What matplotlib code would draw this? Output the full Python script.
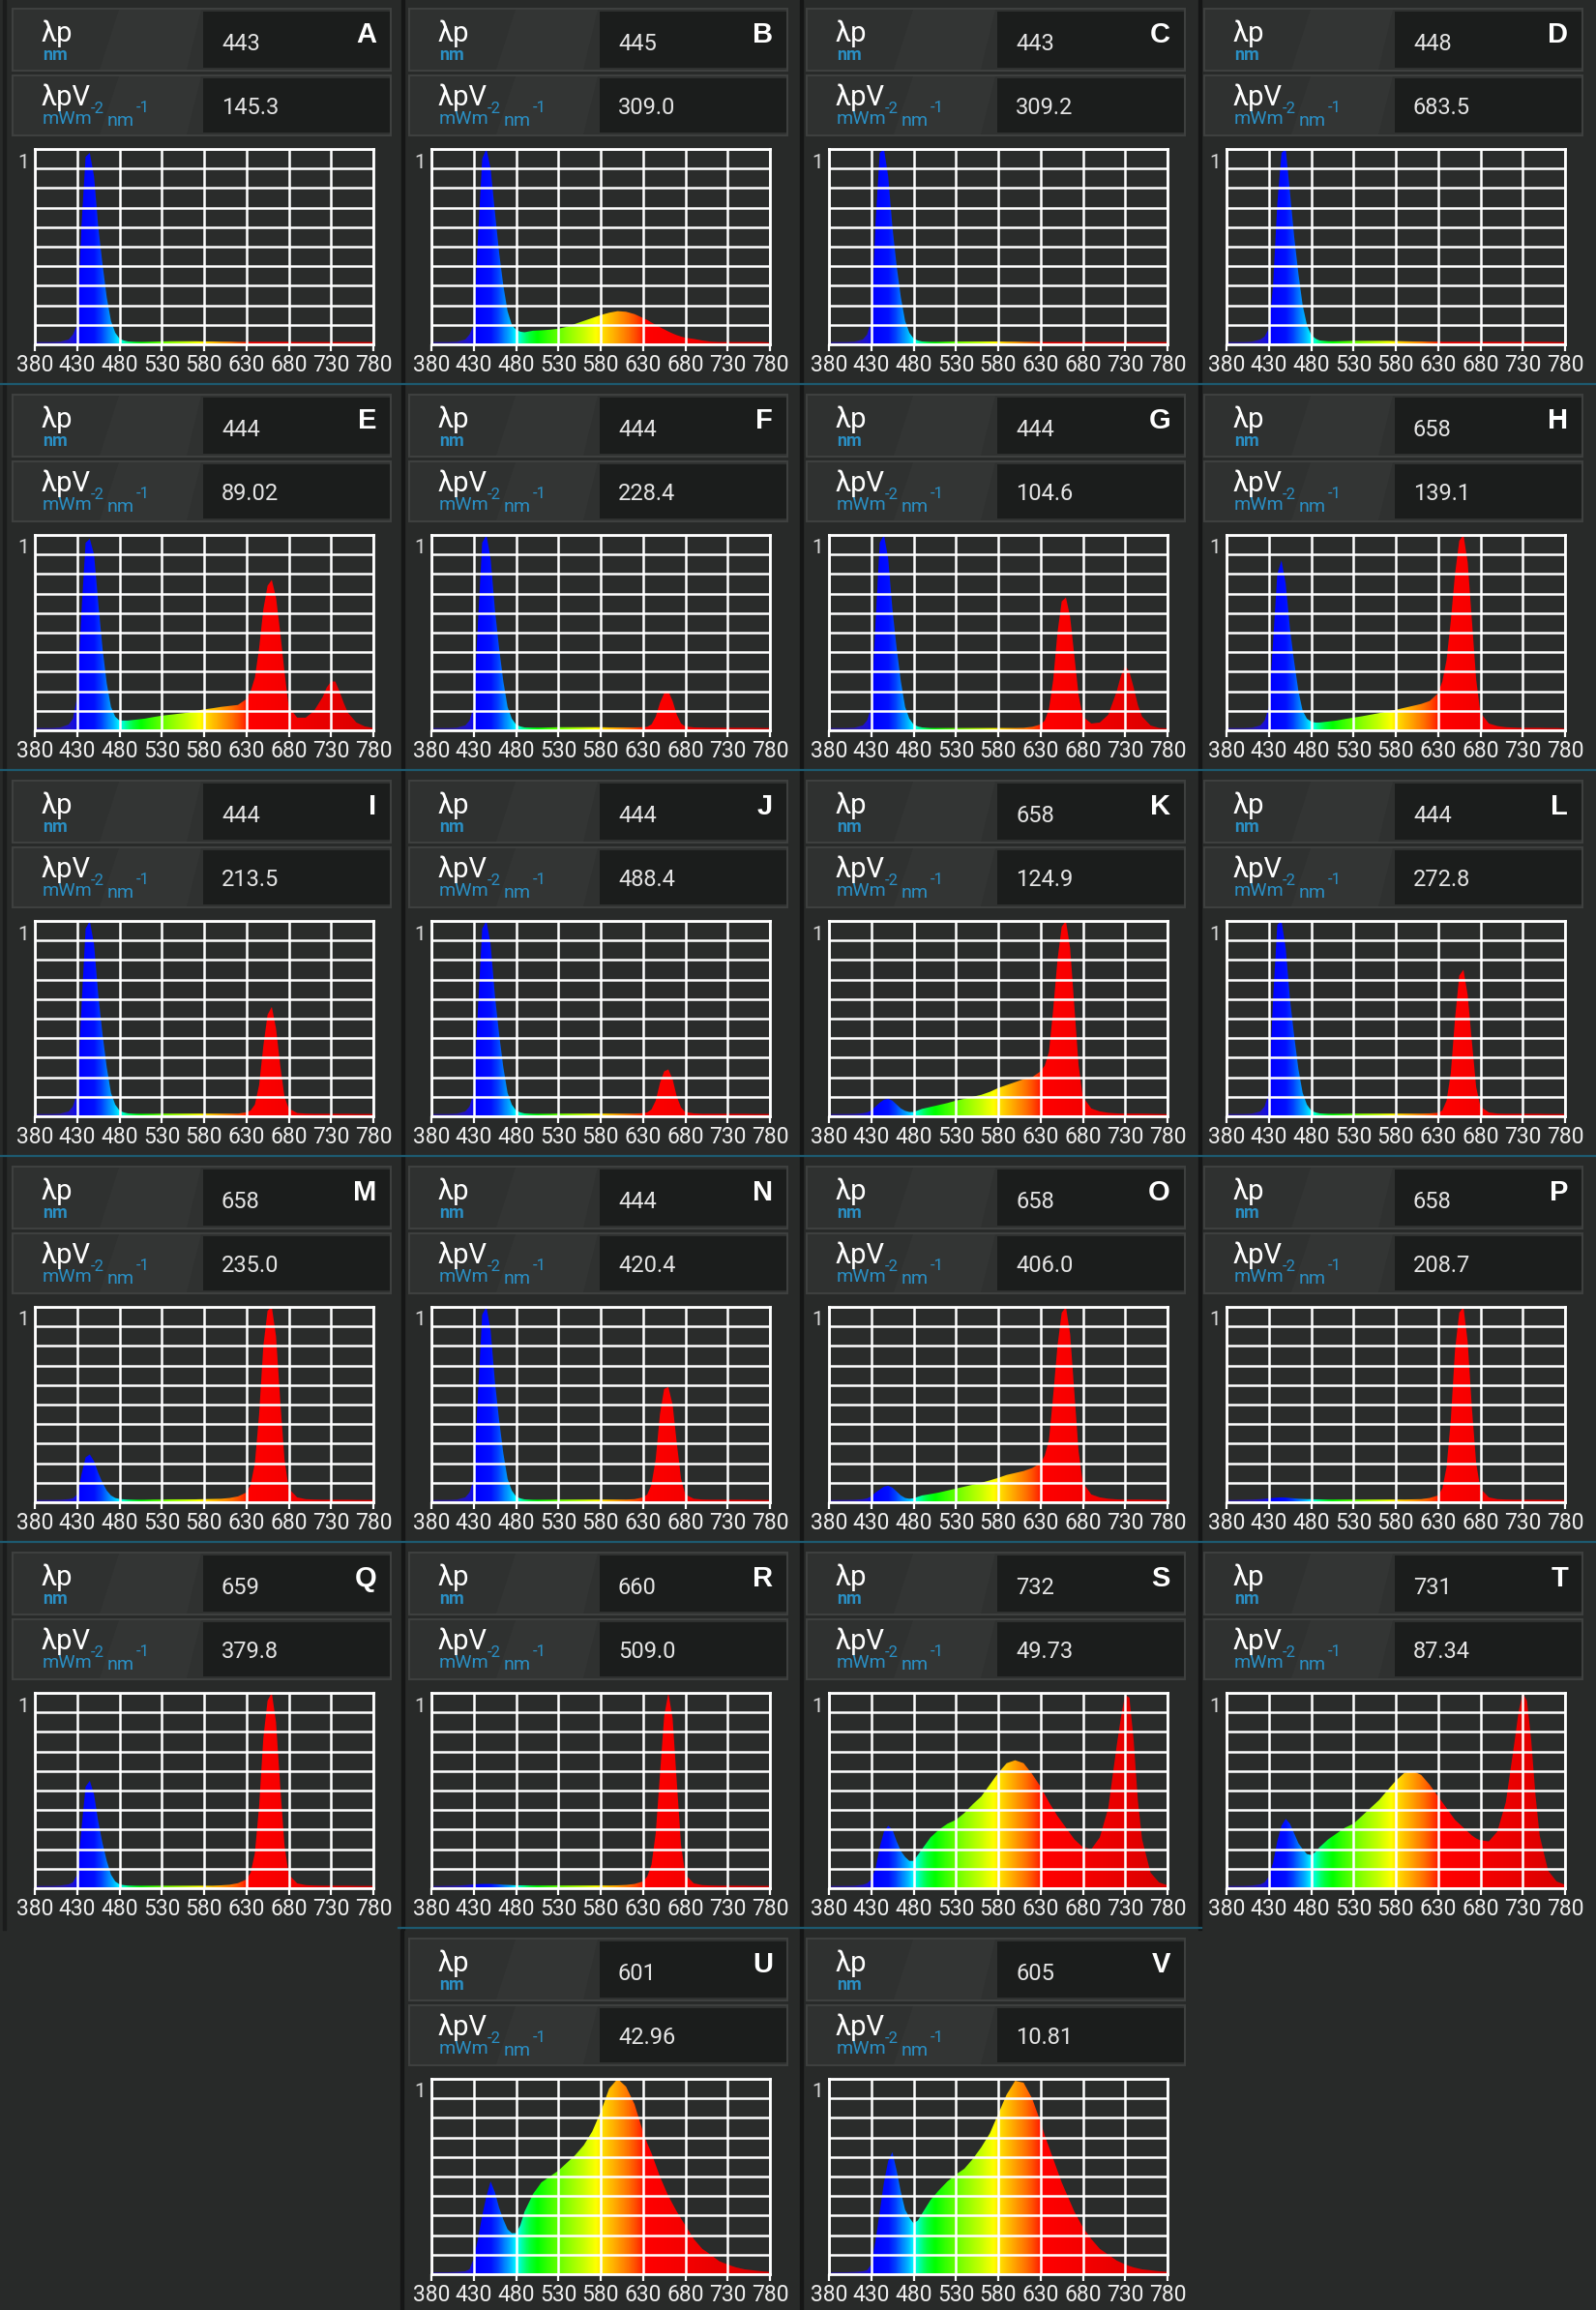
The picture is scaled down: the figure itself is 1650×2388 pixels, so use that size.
import numpy as np
import matplotlib
matplotlib.use('Agg')
import matplotlib.pyplot as plt
from matplotlib.colors import LinearSegmentedColormap
from matplotlib.patches import Rectangle, Polygon

# ---------------- data ----------------
WAVELENGTHS = [380, 390, 400, 410, 420,
               425, 430, 435, 440, 445, 450, 455, 460, 465, 470, 475, 480, 485, 490,
               500, 510, 520, 530, 540, 550, 560, 570, 580, 590, 600, 610, 620, 630,
               635, 640, 645, 650, 655, 660, 665, 670, 675, 680,
               690, 700, 710, 720,
               725, 730, 735, 740, 745, 750,
               760, 770, 780]

SPEC_A = [0.012, 0.012, 0.012, 0.014, 0.025,
          0.05, 0.10, 0.60, 0.96, 0.98, 0.86, 0.60, 0.41, 0.24, 0.12, 0.06, 0.03, 0.02, 0.015,
          0.013, 0.013, 0.014, 0.015, 0.016, 0.016, 0.016, 0.016, 0.015, 0.015, 0.014, 0.014, 0.013, 0.013,
          0.013, 0.013, 0.013, 0.013, 0.013, 0.013, 0.013, 0.013, 0.013, 0.013,
          0.012, 0.012, 0.012, 0.012,
          0.012, 0.012, 0.012, 0.012, 0.012, 0.012,
          0.012, 0.012, 0.012]
SPEC_B = [0.012, 0.012, 0.012, 0.014, 0.025,
          0.05, 0.10, 0.55, 0.95, 1.00, 0.90, 0.68, 0.47, 0.30, 0.17, 0.10, 0.075, 0.065, 0.062,
          0.07, 0.072, 0.075, 0.08, 0.09, 0.105, 0.12, 0.135, 0.15, 0.162, 0.17, 0.167, 0.155, 0.135,
          0.125, 0.112, 0.10, 0.088, 0.077, 0.066, 0.056, 0.047, 0.04, 0.034,
          0.028, 0.02, 0.014, 0.012,
          0.012, 0.012, 0.012, 0.012, 0.012, 0.012,
          0.012, 0.012, 0.01]
SPEC_C = [0.012, 0.012, 0.012, 0.014, 0.025,
          0.05, 0.12, 0.62, 0.98, 1.00, 0.86, 0.60, 0.40, 0.24, 0.12, 0.06, 0.03, 0.02, 0.015,
          0.013, 0.013, 0.014, 0.015, 0.015, 0.015, 0.015, 0.015, 0.015, 0.014, 0.014, 0.013, 0.013, 0.013,
          0.012, 0.012, 0.012, 0.012, 0.012, 0.012, 0.012, 0.012, 0.012, 0.012,
          0.012, 0.012, 0.012, 0.012,
          0.012, 0.012, 0.012, 0.012, 0.012, 0.012,
          0.012, 0.012, 0.012]
SPEC_D = [0.012, 0.012, 0.012, 0.014, 0.025,
          0.04, 0.08, 0.30, 0.72, 0.98, 1.00, 0.78, 0.55, 0.36, 0.20, 0.10, 0.05, 0.03, 0.02,
          0.016, 0.016, 0.017, 0.018, 0.018, 0.018, 0.018, 0.018, 0.017, 0.016, 0.015, 0.015, 0.014, 0.014,
          0.013, 0.013, 0.013, 0.013, 0.013, 0.013, 0.013, 0.013, 0.013, 0.013,
          0.013, 0.013, 0.013, 0.013,
          0.013, 0.013, 0.013, 0.013, 0.013, 0.013,
          0.013, 0.012, 0.012]
SPEC_E = [0.012, 0.012, 0.012, 0.015, 0.03,
          0.06, 0.17, 0.60, 0.96, 0.98, 0.90, 0.65, 0.42, 0.24, 0.12, 0.07, 0.05, 0.05, 0.05,
          0.055, 0.06, 0.068, 0.075, 0.08, 0.085, 0.09, 0.10, 0.107, 0.113, 0.12, 0.125, 0.13, 0.16,
          0.20, 0.27, 0.42, 0.62, 0.74, 0.77, 0.68, 0.50, 0.30, 0.12,
          0.065, 0.065, 0.10, 0.17,
          0.22, 0.25, 0.25, 0.20, 0.14, 0.09,
          0.04, 0.02, 0.012]
SPEC_F = [0.012, 0.012, 0.012, 0.014, 0.025,
          0.05, 0.12, 0.55, 0.96, 1.00, 0.88, 0.62, 0.42, 0.25, 0.12, 0.06, 0.03, 0.02, 0.015,
          0.014, 0.014, 0.015, 0.016, 0.016, 0.016, 0.016, 0.016, 0.016, 0.015, 0.015, 0.015, 0.015, 0.016,
          0.018, 0.03, 0.07, 0.14, 0.19, 0.20, 0.15, 0.08, 0.035, 0.02,
          0.015, 0.014, 0.013, 0.013,
          0.013, 0.013, 0.013, 0.013, 0.013, 0.013,
          0.013, 0.012, 0.012]
SPEC_G = [0.012, 0.012, 0.012, 0.014, 0.025,
          0.05, 0.12, 0.55, 0.96, 1.00, 0.88, 0.62, 0.42, 0.25, 0.12, 0.06, 0.03, 0.02, 0.015,
          0.012, 0.012, 0.012, 0.012, 0.012, 0.012, 0.012, 0.012, 0.012, 0.012, 0.012, 0.013, 0.018, 0.03,
          0.05, 0.11, 0.26, 0.50, 0.66, 0.68, 0.58, 0.38, 0.18, 0.07,
          0.035, 0.04, 0.08, 0.20,
          0.28, 0.33, 0.30, 0.22, 0.13, 0.07,
          0.025, 0.012, 0.01]
SPEC_H = [0.012, 0.012, 0.012, 0.014, 0.025,
          0.05, 0.12, 0.45, 0.80, 0.87, 0.75, 0.52, 0.35, 0.20, 0.10, 0.06, 0.045, 0.04, 0.04,
          0.045, 0.05, 0.058, 0.065, 0.072, 0.08, 0.088, 0.097, 0.105, 0.115, 0.125, 0.135, 0.15, 0.19,
          0.25, 0.36, 0.56, 0.80, 0.97, 1.00, 0.86, 0.56, 0.26, 0.09,
          0.035, 0.022, 0.016, 0.014,
          0.013, 0.013, 0.013, 0.013, 0.013, 0.013,
          0.012, 0.012, 0.01]
SPEC_I = [0.012, 0.012, 0.012, 0.014, 0.025,
          0.05, 0.12, 0.55, 0.96, 1.00, 0.88, 0.62, 0.42, 0.25, 0.12, 0.06, 0.03, 0.02, 0.015,
          0.013, 0.013, 0.013, 0.014, 0.014, 0.014, 0.014, 0.014, 0.014, 0.014, 0.014, 0.014, 0.014, 0.02,
          0.03, 0.06, 0.16, 0.36, 0.52, 0.56, 0.45, 0.26, 0.10, 0.04,
          0.017, 0.014, 0.013, 0.013,
          0.013, 0.013, 0.013, 0.013, 0.013, 0.013,
          0.012, 0.012, 0.012]
SPEC_J = [0.012, 0.012, 0.012, 0.014, 0.025,
          0.05, 0.12, 0.55, 0.96, 1.00, 0.88, 0.62, 0.42, 0.25, 0.12, 0.06, 0.03, 0.02, 0.015,
          0.013, 0.013, 0.013, 0.014, 0.014, 0.014, 0.014, 0.014, 0.014, 0.014, 0.014, 0.014, 0.014, 0.016,
          0.02, 0.035, 0.08, 0.17, 0.23, 0.24, 0.19, 0.10, 0.045, 0.022,
          0.015, 0.013, 0.013, 0.013,
          0.013, 0.013, 0.013, 0.013, 0.013, 0.013,
          0.012, 0.012, 0.012]
SPEC_K = [0.012, 0.012, 0.012, 0.013, 0.016,
          0.02, 0.03, 0.05, 0.07, 0.085, 0.09, 0.08, 0.06, 0.04, 0.028, 0.022, 0.022, 0.03, 0.038,
          0.048, 0.058, 0.068, 0.08, 0.09, 0.10, 0.11, 0.125, 0.145, 0.16, 0.175, 0.19, 0.20, 0.23,
          0.26, 0.33, 0.55, 0.80, 0.97, 1.00, 0.86, 0.56, 0.26, 0.10,
          0.04, 0.025, 0.018, 0.015,
          0.014, 0.014, 0.014, 0.014, 0.014, 0.014,
          0.013, 0.012, 0.011]
SPEC_L = [0.012, 0.012, 0.012, 0.014, 0.025,
          0.05, 0.12, 0.60, 0.98, 1.00, 0.86, 0.60, 0.41, 0.24, 0.12, 0.06, 0.03, 0.02, 0.015,
          0.013, 0.013, 0.013, 0.014, 0.014, 0.014, 0.014, 0.014, 0.014, 0.014, 0.014, 0.014, 0.015, 0.018,
          0.03, 0.08, 0.22, 0.50, 0.72, 0.75, 0.62, 0.38, 0.15, 0.05,
          0.02, 0.014, 0.013, 0.013,
          0.013, 0.013, 0.013, 0.013, 0.013, 0.013,
          0.012, 0.012, 0.012]
SPEC_M = [0.012, 0.012, 0.012, 0.013, 0.016,
          0.02, 0.04, 0.14, 0.23, 0.245, 0.21, 0.15, 0.10, 0.06, 0.035, 0.022, 0.017, 0.015, 0.014,
          0.013, 0.013, 0.014, 0.014, 0.015, 0.015, 0.015, 0.015, 0.016, 0.017, 0.018, 0.022, 0.03, 0.05,
          0.09, 0.20, 0.45, 0.80, 0.98, 1.00, 0.85, 0.52, 0.22, 0.07,
          0.025, 0.016, 0.014, 0.013,
          0.013, 0.013, 0.013, 0.013, 0.013, 0.013,
          0.012, 0.012, 0.012]
SPEC_N = [0.012, 0.012, 0.012, 0.014, 0.025,
          0.05, 0.12, 0.55, 0.96, 1.00, 0.88, 0.62, 0.42, 0.25, 0.12, 0.06, 0.03, 0.02, 0.015,
          0.013, 0.013, 0.013, 0.014, 0.014, 0.014, 0.014, 0.014, 0.014, 0.014, 0.014, 0.014, 0.016, 0.025,
          0.04, 0.09, 0.22, 0.45, 0.58, 0.59, 0.50, 0.30, 0.12, 0.04,
          0.018, 0.014, 0.013, 0.013,
          0.013, 0.013, 0.013, 0.013, 0.013, 0.013,
          0.012, 0.012, 0.012]
SPEC_O = [0.012, 0.012, 0.012, 0.013, 0.016,
          0.02, 0.03, 0.05, 0.065, 0.08, 0.085, 0.075, 0.055, 0.035, 0.022, 0.018, 0.02, 0.028, 0.035,
          0.042, 0.05, 0.06, 0.07, 0.08, 0.09, 0.10, 0.112, 0.125, 0.14, 0.15, 0.16, 0.175, 0.20,
          0.24, 0.32, 0.55, 0.80, 0.97, 1.00, 0.86, 0.56, 0.26, 0.10,
          0.04, 0.025, 0.018, 0.015,
          0.014, 0.014, 0.014, 0.014, 0.014, 0.014,
          0.013, 0.012, 0.011]
SPEC_P = [0.012, 0.012, 0.013, 0.014, 0.016,
          0.018, 0.02, 0.022, 0.024, 0.025, 0.024, 0.022, 0.02, 0.018, 0.017, 0.016, 0.016, 0.015, 0.015,
          0.014, 0.014, 0.014, 0.014, 0.014, 0.014, 0.014, 0.014, 0.014, 0.014, 0.015, 0.016, 0.022, 0.035,
          0.07, 0.18, 0.42, 0.78, 0.97, 1.00, 0.82, 0.48, 0.20, 0.07,
          0.025, 0.016, 0.014, 0.013,
          0.013, 0.013, 0.013, 0.013, 0.013, 0.013,
          0.012, 0.012, 0.012]
SPEC_Q = [0.012, 0.012, 0.012, 0.014, 0.02,
          0.03, 0.07, 0.30, 0.52, 0.55, 0.48, 0.34, 0.23, 0.14, 0.07, 0.035, 0.02, 0.016, 0.014,
          0.013, 0.013, 0.013, 0.013, 0.013, 0.013, 0.013, 0.013, 0.013, 0.013, 0.015, 0.018, 0.026, 0.045,
          0.08, 0.18, 0.42, 0.77, 0.96, 1.00, 0.85, 0.52, 0.22, 0.07,
          0.025, 0.016, 0.014, 0.013,
          0.013, 0.013, 0.013, 0.013, 0.013, 0.013,
          0.012, 0.012, 0.012]
SPEC_R = [0.012, 0.012, 0.013, 0.014, 0.016,
          0.018, 0.02, 0.021, 0.022, 0.022, 0.022, 0.021, 0.02, 0.018, 0.017, 0.016, 0.015, 0.015, 0.015,
          0.014, 0.014, 0.014, 0.014, 0.014, 0.014, 0.014, 0.014, 0.014, 0.014, 0.015, 0.017, 0.022, 0.035,
          0.06, 0.12, 0.28, 0.58, 0.88, 1.00, 0.87, 0.54, 0.22, 0.07,
          0.025, 0.016, 0.014, 0.013,
          0.013, 0.013, 0.013, 0.013, 0.013, 0.013,
          0.012, 0.012, 0.012]
SPEC_S = [0.012, 0.012, 0.012, 0.013, 0.018,
          0.025, 0.045, 0.10, 0.21, 0.29, 0.32, 0.30, 0.24, 0.19, 0.16, 0.14, 0.14, 0.17, 0.20,
          0.26, 0.30, 0.33, 0.35, 0.385, 0.43, 0.47, 0.53, 0.59, 0.64, 0.655, 0.64, 0.585, 0.52,
          0.48, 0.44, 0.405, 0.37, 0.34, 0.31, 0.28, 0.25, 0.23, 0.21,
          0.20, 0.26, 0.41, 0.73,
          0.875, 0.99, 0.975, 0.76, 0.45, 0.25,
          0.08, 0.03, 0.015]
SPEC_T = [0.012, 0.012, 0.012, 0.014, 0.02,
          0.03, 0.06, 0.13, 0.24, 0.32, 0.355, 0.33, 0.28, 0.23, 0.20, 0.175, 0.17, 0.185, 0.21,
          0.25, 0.28, 0.31, 0.33, 0.37, 0.41, 0.45, 0.50, 0.55, 0.59, 0.60, 0.58, 0.53, 0.47,
          0.44, 0.41, 0.38, 0.35, 0.33, 0.31, 0.29, 0.27, 0.255, 0.245,
          0.24, 0.29, 0.44, 0.74,
          0.90, 1.00, 0.96, 0.76, 0.48, 0.27,
          0.09, 0.035, 0.018]
SPEC_U = [0.01, 0.01, 0.01, 0.012, 0.015,
          0.025, 0.08, 0.18, 0.30, 0.40, 0.475, 0.42, 0.34, 0.28, 0.23, 0.21, 0.21, 0.25, 0.32,
          0.41, 0.47, 0.50, 0.53, 0.57, 0.61, 0.66, 0.73, 0.83, 0.95, 1.00, 0.96, 0.87, 0.73,
          0.67, 0.62, 0.56, 0.50, 0.45, 0.40, 0.36, 0.32, 0.285, 0.25,
          0.18, 0.13, 0.10, 0.067,
          0.058, 0.05, 0.042, 0.035, 0.03, 0.025,
          0.02, 0.015, 0.012]
SPEC_V = [0.01, 0.01, 0.01, 0.012, 0.015,
          0.02, 0.05, 0.17, 0.32, 0.47, 0.58, 0.625, 0.53, 0.42, 0.33, 0.29, 0.26, 0.275, 0.31,
          0.38, 0.43, 0.475, 0.51, 0.54, 0.59, 0.65, 0.72, 0.82, 0.92, 0.99, 0.98, 0.90, 0.78,
          0.71, 0.65, 0.59, 0.53, 0.47, 0.42, 0.37, 0.32, 0.28, 0.24,
          0.18, 0.13, 0.10, 0.07,
          0.06, 0.05, 0.042, 0.035, 0.03, 0.025,
          0.02, 0.015, 0.012]

LABELS = list("ABCDEFGHIJKLMNOPQRSTUV")
SPECTRA = [SPEC_A, SPEC_B, SPEC_C, SPEC_D, SPEC_E, SPEC_F, SPEC_G, SPEC_H,
           SPEC_I, SPEC_J, SPEC_K, SPEC_L, SPEC_M, SPEC_N, SPEC_O, SPEC_P,
           SPEC_Q, SPEC_R, SPEC_S, SPEC_T, SPEC_U, SPEC_V]
LAMBDA_P = ['443', '445', '443', '448', '444', '444', '444', '658',
            '444', '444', '658', '444', '658', '444', '658', '658',
            '659', '660', '732', '731', '601', '605']
LAMBDA_PV = ['145.3', '309.0', '309.2', '683.5', '89.02', '228.4', '104.6', '139.1',
             '213.5', '488.4', '124.9', '272.8', '235.0', '420.4', '406.0', '208.7',
             '379.8', '509.0', '49.73', '87.34', '42.96', '10.81']
X_TICKS = [380, 430, 480, 530, 580, 630, 680, 730, 780]

# ---------------- style ----------------
W, H = 1650, 2388
DPI = 100
BG = '#282a29'
BLUE_TXT = '#2a8fc4'
UI_FONT = ['Roboto', 'DejaVu Sans']

spec_stops = [
    (380, '#2a1a8c'), (410, '#2a1aa8'), (425, '#1a10d8'), (432, '#0000ff'),
    (450, '#0010ff'), (458, '#0040ff'), (466, '#0080ff'), (474, '#00c0ff'),
    (480, '#00ffff'), (487, '#00ffa0'), (495, '#00ff40'), (505, '#00ff00'),
    (520, '#40ff00'), (540, '#88ff00'), (560, '#c8ff00'), (575, '#ffff00'),
    (585, '#ffd400'), (600, '#ffa000'), (615, '#ff6a00'), (627, '#ff3000'),
    (633, '#ff0000'), (690, '#f20000'), (780, '#d80000')]
cmap = LinearSegmentedColormap.from_list(
    'spec', [((w - 380) / 400.0, c) for w, c in spec_stops])

fig = plt.figure(figsize=(W / DPI, H / DPI), dpi=DPI, facecolor=BG)
bg = fig.add_axes([0, 0, 1, 1])
bg.set_xlim(0, W)
bg.set_ylim(H, 0)
bg.axis('off')

COL_X = [3, 413, 824, 1235]
ROW_Y = [0, 399, 798, 1197, 1596, 1995]
positions = [(i // 4, i % 4) for i in range(20)] + [(5, 1), (5, 2)]

# separators
for x in [416, 828, 1240]:
    bg.add_patch(Rectangle((x - 1.5, 0), 3, 1995, color='#151616', zorder=1))
for x in [415, 828]:
    bg.add_patch(Rectangle((x - 1.5, 1995), 3, H - 1995, color='#151616', zorder=1))
bg.add_patch(Rectangle((3, 0), 3, 1995, color='#1b1c1c', zorder=1))
for r in range(4):
    bg.plot([0, W], [ROW_Y[r + 1] - 2, ROW_Y[r + 1] - 2], color='#1d5a70', lw=1.6, zorder=1)
bg.plot([412, 1242], [ROW_Y[5] - 2, ROW_Y[5] - 2], color='#1d5a70', lw=1.6, zorder=1)

grad_x = np.linspace(380, 780, 801)
grad_img = cmap((grad_x - 380) / 400.0)[np.newaxis, :, :]


def header_box(cx, y0, h):
    bg.add_patch(Rectangle((cx + 10, y0), 391, h, facecolor='#2f3130',
                           edgecolor='#3e403f', lw=1.5, zorder=2))
    bg.add_patch(Polygon([(cx + 120, y0 + 1), (cx + 205, y0 + 1),
                          (cx + 190, y0 + h - 1), (cx + 100, y0 + h - 1)],
                         closed=True, facecolor='#333534', edgecolor='none', zorder=2))
    bg.add_patch(Rectangle((cx + 207, y0 + 3), 193, h - 6, facecolor='#1b1d1c',
                           edgecolor='none', zorder=3))


def txt(x, y, s, **kw):
    opts = dict(va='baseline', ha='left', zorder=4, family=UI_FONT)
    opts.update(kw)
    bg.text(x, y, s, **opts)


for i, lab in enumerate(LABELS):
    r, c = positions[i]
    cx, ry = COL_X[c], ROW_Y[r]

    header_box(cx, ry + 9, 64)
    header_box(cx, ry + 78, 62)

    txt(cx + 40, ry + 43, 'λp', color='white', fontsize=21)
    txt(cx + 41, ry + 62, 'nm', color=BLUE_TXT, fontsize=13, fontweight='bold')
    txt(cx + 40, ry + 109, 'λpV', color='white', fontsize=21)
    txt(cx + 41, ry + 128, 'mWm', color=BLUE_TXT, fontsize=14)
    txt(cx + 91, ry + 117, '-2', color=BLUE_TXT, fontsize=12)
    txt(cx + 108, ry + 130, 'nm', color=BLUE_TXT, fontsize=14)
    txt(cx + 138, ry + 116, '-1', color=BLUE_TXT, fontsize=12)

    txt(cx + 226, ry + 52, LAMBDA_P[i], color='#e4e4e4', fontsize=17)
    txt(cx + 226, ry + 118, LAMBDA_PV[i], color='#e4e4e4', fontsize=17)
    txt(cx + 386, ry + 44, lab, color='white', fontsize=21, fontweight='bold',
        ha='right', family=['Liberation Sans', 'DejaVu Sans'])
    txt(cx + 21, ry + 168, '1', color='#d8d8d8', fontsize=15, va='center', ha='center')

    # spectrum axes
    left, right, top, bot = cx + 33, cx + 383, ry + 154, ry + 356
    ax = fig.add_axes([left / W, 1 - bot / H, (right - left) / W, (bot - top) / H])
    ax.set_facecolor('#2a2c2b')
    ax.set_xlim(380, 780)
    ax.set_ylim(0, 1)
    vals = SPECTRA[i]
    verts = list(zip(WAVELENGTHS, vals)) + [(780, 0), (380, 0)]
    clip = Polygon(verts, closed=True, transform=ax.transData,
                   facecolor='none', edgecolor='none')
    ax.add_patch(clip)
    im = ax.imshow(grad_img, extent=[380, 780, 0, 1], aspect='auto',
                   origin='lower', interpolation='bilinear', zorder=1)
    im.set_clip_path(clip)

    ax.set_xticks(X_TICKS)
    ax.set_xticklabels([str(t) for t in X_TICKS], color='#eeeeee',
                       fontsize=16.5, family=UI_FONT)
    ax.set_yticks(np.arange(0, 1.01, 0.1))
    ax.set_yticklabels([])
    ax.tick_params(axis='y', length=0)
    ax.tick_params(axis='x', length=5, width=1.6, color='white', pad=2)
    ax.set_axisbelow(False)
    ax.grid(True, color='white', lw=1.8)
    for s in ax.spines.values():
        s.set_color('white')
        s.set_linewidth(2)

fig.savefig('out.png', dpi=DPI, facecolor=BG)
